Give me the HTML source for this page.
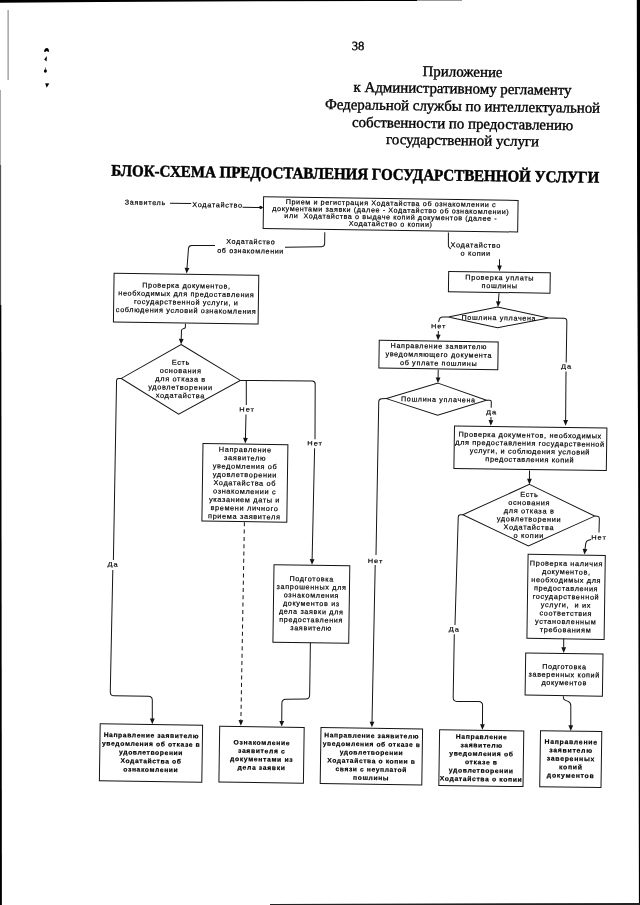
<!DOCTYPE html>
<html><head><meta charset="utf-8"><style>
html,body{margin:0;padding:0;background:#fff;width:640px;height:905px;overflow:hidden}
svg{display:block;filter:grayscale(1)}
</style></head><body>
<svg width="640" height="905" viewBox="0 0 640 905">
<rect width="640" height="905" fill="#fff"/>
<g transform="rotate(0.81 320.0 452.0)">
<text x="352.31" y="49.5" style="font-family:&quot;Liberation Serif&quot;,serif;font-size:12.50px;white-space:pre"  stroke="#000" stroke-width="0.35" text-anchor="middle" fill="#000" xml:space="preserve">38</text>
<text x="457.18" y="74.62" style="font-family:&quot;Liberation Serif&quot;,serif;font-size:14.90px;white-space:pre"  stroke="#000" stroke-width="0.35" text-anchor="middle" fill="#000" xml:space="preserve">Приложение</text>
<text x="457.42" y="91.42" style="font-family:&quot;Liberation Serif&quot;,serif;font-size:14.90px;white-space:pre"  stroke="#000" stroke-width="0.35" text-anchor="middle" fill="#000" xml:space="preserve">к Административному регламенту</text>
<text x="457.67" y="109.02" style="font-family:&quot;Liberation Serif&quot;,serif;font-size:14.90px;white-space:pre"  stroke="#000" stroke-width="0.35" text-anchor="middle" fill="#000" xml:space="preserve">Федеральной службы по интеллектуальной</text>
<text x="457.91" y="126.52" style="font-family:&quot;Liberation Serif&quot;,serif;font-size:14.90px;white-space:pre"  stroke="#000" stroke-width="0.35" text-anchor="middle" fill="#000" xml:space="preserve">собственности по предоставлению</text>
<text x="458.15" y="143.22" style="font-family:&quot;Liberation Serif&quot;,serif;font-size:14.90px;white-space:pre"  stroke="#000" stroke-width="0.35" text-anchor="middle" fill="#000" xml:space="preserve">государственной услуги</text>
<text x="0" y="0" transform="translate(351.44,178.83) scale(1.0,1.09)" style="font-family:&quot;Liberation Serif&quot;,serif;font-size:15.00px;white-space:pre"  font-weight="bold" stroke="#000" stroke-width="0.45" text-anchor="middle" fill="#000" xml:space="preserve">БЛОК-СХЕМА ПРЕДОСТАВЛЕНИЯ ГОСУДАРСТВЕННОЙ УСЛУГИ</text>
<text x="0" y="0" transform="translate(141.87,207.3) scale(1.0,0.9651162790697674)" style="font-family:&quot;Liberation Sans&quot;,sans-serif;font-size:7.15px;white-space:pre"  letter-spacing="0.698" stroke="#000" stroke-width="0.2" text-anchor="middle" fill="#000" xml:space="preserve">Заявитель</text>
<path d="M166.5,205.45 L187.7,205.45" fill="none" stroke="#141414" stroke-width="1.0"/>
<text x="0" y="0" transform="translate(214.1,208.78) scale(1.0,0.9651162790697674)" style="font-family:&quot;Liberation Sans&quot;,sans-serif;font-size:7.27px;white-space:pre"  letter-spacing="0.691" stroke="#000" stroke-width="0.2" text-anchor="middle" fill="#000" xml:space="preserve">Ходатайство</text>
<path d="M239.05,208.42 L257.45,208.34" fill="none" stroke="#141414" stroke-width="1.0"/>
<polygon points="259.95,208.32 256.96,209.94 256.94,206.74" fill="#141414"/>
<circle cx="257.15" cy="208.26" r="1.5" fill="#141414"/>
<rect x="260" y="197.62" width="254.52" height="31.61" fill="#fff" stroke="#141414" stroke-width="1.0"/>
<text x="0" y="0" transform="translate(387.44,204.63) scale(1.0,0.9651162790697674)" style="font-family:&quot;Liberation Sans&quot;,sans-serif;font-size:7.19px;white-space:pre"  letter-spacing="0.602" stroke="#000" stroke-width="0.2" text-anchor="middle" fill="#000" xml:space="preserve">Прием и регистрация Ходатайства об ознакомлении с</text>
<text x="0" y="0" transform="translate(387.44,211.53) scale(1.0,0.9651162790697674)" style="font-family:&quot;Liberation Sans&quot;,sans-serif;font-size:7.19px;white-space:pre"  letter-spacing="0.602" stroke="#000" stroke-width="0.2" text-anchor="middle" fill="#000" xml:space="preserve">документами заявки (далее - Ходатайство об ознакомлении)</text>
<text x="0" y="0" transform="translate(387.44,218.43) scale(1.0,0.9651162790697674)" style="font-family:&quot;Liberation Sans&quot;,sans-serif;font-size:7.19px;white-space:pre"  letter-spacing="0.602" stroke="#000" stroke-width="0.2" text-anchor="middle" fill="#000" xml:space="preserve">или  Ходатайства о выдаче копий документов (далее -</text>
<text x="0" y="0" transform="translate(387.44,225.33) scale(1.0,0.9651162790697674)" style="font-family:&quot;Liberation Sans&quot;,sans-serif;font-size:7.19px;white-space:pre"  letter-spacing="0.602" stroke="#000" stroke-width="0.2" text-anchor="middle" fill="#000" xml:space="preserve">Ходатайство о копии)</text>
<path d="M321.69,232.15 L321.7,243.56 Q321.7,246.56 318.7,246.64 L282.11,247.72" fill="none" stroke="#141414" stroke-width="1.0"/>
<text x="0" y="0" transform="translate(247.79,245) scale(1.0,0.9651162790697674)" style="font-family:&quot;Liberation Sans&quot;,sans-serif;font-size:7.10px;white-space:pre"  letter-spacing="0.654" stroke="#000" stroke-width="0.2" text-anchor="middle" fill="#000" xml:space="preserve">Ходатайство</text>
<text x="0" y="0" transform="translate(247.79,254.2) scale(1.0,0.9651162790697674)" style="font-family:&quot;Liberation Sans&quot;,sans-serif;font-size:7.10px;white-space:pre"  letter-spacing="0.654" stroke="#000" stroke-width="0.2" text-anchor="middle" fill="#000" xml:space="preserve">об ознакомлении</text>
<path d="M212.09,247.1 L188.79,247.35 Q185.79,247.38 185.61,250.37 L184.4,270.21" fill="none" stroke="#141414" stroke-width="1.0"/>
<polygon points="184.09,275.3 182.03,269.57 186.83,269.86" fill="#141414"/>
<rect x="111.59" y="276.23" width="144.7" height="48.66" fill="#fff" stroke="#141414" stroke-width="1.0"/>
<text x="0" y="0" transform="translate(184.12,289.91) scale(1.0,0.9651162790697674)" style="font-family:&quot;Liberation Sans&quot;,sans-serif;font-size:7.24px;white-space:pre"  letter-spacing="0.649" stroke="#000" stroke-width="0.2" text-anchor="middle" fill="#000" xml:space="preserve">Проверка документов,</text>
<text x="0" y="0" transform="translate(184.12,298.21) scale(1.0,0.9651162790697674)" style="font-family:&quot;Liberation Sans&quot;,sans-serif;font-size:7.24px;white-space:pre"  letter-spacing="0.649" stroke="#000" stroke-width="0.2" text-anchor="middle" fill="#000" xml:space="preserve">необходимых для предоставления</text>
<text x="0" y="0" transform="translate(184.12,306.51) scale(1.0,0.9651162790697674)" style="font-family:&quot;Liberation Sans&quot;,sans-serif;font-size:7.24px;white-space:pre"  letter-spacing="0.649" stroke="#000" stroke-width="0.2" text-anchor="middle" fill="#000" xml:space="preserve">государственной услуги, и</text>
<text x="0" y="0" transform="translate(184.12,314.81) scale(1.0,0.9651162790697674)" style="font-family:&quot;Liberation Sans&quot;,sans-serif;font-size:7.24px;white-space:pre"  letter-spacing="0.649" stroke="#000" stroke-width="0.2" text-anchor="middle" fill="#000" xml:space="preserve">соблюдения условий ознакомления</text>
<path d="M183.6,325.72 L183.64,328.82 Q183.66,329.82 182.74,330.21 L180.7,331.08 Q179.78,331.47 179.77,332.47 L179.66,341.37" fill="none" stroke="#141414" stroke-width="1.0"/>
<polygon points="179.59,346.47 177.26,340.84 182.06,340.9" fill="#141414"/>
<polygon points="179.59,346.47 239.3,381.53 178.18,416.2 120.23,381.22" fill="#fff" stroke="#141414" stroke-width="1.0"/>
<text x="0" y="0" transform="translate(179.62,366.78) scale(1.0,0.9651162790697674)" style="font-family:&quot;Liberation Sans&quot;,sans-serif;font-size:7.32px;white-space:pre"  letter-spacing="0.684" stroke="#000" stroke-width="0.2" text-anchor="middle" fill="#000" xml:space="preserve">Есть</text>
<text x="0" y="0" transform="translate(179.62,375.06) scale(1.0,0.9651162790697674)" style="font-family:&quot;Liberation Sans&quot;,sans-serif;font-size:7.32px;white-space:pre"  letter-spacing="0.684" stroke="#000" stroke-width="0.2" text-anchor="middle" fill="#000" xml:space="preserve">основания</text>
<text x="0" y="0" transform="translate(179.62,383.34) scale(1.0,0.9651162790697674)" style="font-family:&quot;Liberation Sans&quot;,sans-serif;font-size:7.32px;white-space:pre"  letter-spacing="0.684" stroke="#000" stroke-width="0.2" text-anchor="middle" fill="#000" xml:space="preserve">для отказа в</text>
<text x="0" y="0" transform="translate(179.62,391.62) scale(1.0,0.9651162790697674)" style="font-family:&quot;Liberation Sans&quot;,sans-serif;font-size:7.32px;white-space:pre"  letter-spacing="0.684" stroke="#000" stroke-width="0.2" text-anchor="middle" fill="#000" xml:space="preserve">удовлетворении</text>
<text x="0" y="0" transform="translate(179.62,399.9) scale(1.0,0.9651162790697674)" style="font-family:&quot;Liberation Sans&quot;,sans-serif;font-size:7.32px;white-space:pre"  letter-spacing="0.684" stroke="#000" stroke-width="0.2" text-anchor="middle" fill="#000" xml:space="preserve">ходатайства</text>
<path d="M445.28,230.61 L445.47,243.71 Q445.49,245.21 446.7,246.09 L447.91,246.97" fill="none" stroke="#141414" stroke-width="1.0"/>
<text x="0" y="0" transform="translate(472.84,245.32) scale(1.0,0.9651162790697674)" style="font-family:&quot;Liberation Sans&quot;,sans-serif;font-size:7.30px;white-space:pre"  letter-spacing="0.694" stroke="#000" stroke-width="0.2" text-anchor="middle" fill="#000" xml:space="preserve">Ходатайство</text>
<text x="0" y="0" transform="translate(472.84,253.52) scale(1.0,0.9651162790697674)" style="font-family:&quot;Liberation Sans&quot;,sans-serif;font-size:7.30px;white-space:pre"  letter-spacing="0.694" stroke="#000" stroke-width="0.2" text-anchor="middle" fill="#000" xml:space="preserve">о копии</text>
<path d="M496.76,256.78 L496.85,263.58" fill="none" stroke="#141414" stroke-width="1.0"/>
<polygon points="496.93,268.68 494.45,263.12 499.25,263.05" fill="#141414"/>
<rect x="446.13" y="269.6" width="101.6" height="20.37" fill="#fff" stroke="#141414" stroke-width="1.0"/>
<text x="0" y="0" transform="translate(497.24,277.54) scale(1.0,0.9651162790697674)" style="font-family:&quot;Liberation Sans&quot;,sans-serif;font-size:7.27px;white-space:pre"  letter-spacing="0.672" stroke="#000" stroke-width="0.2" text-anchor="middle" fill="#000" xml:space="preserve">Проверка уплаты</text>
<text x="0" y="0" transform="translate(497.24,285.64) scale(1.0,0.9651162790697674)" style="font-family:&quot;Liberation Sans&quot;,sans-serif;font-size:7.27px;white-space:pre"  letter-spacing="0.672" stroke="#000" stroke-width="0.2" text-anchor="middle" fill="#000" xml:space="preserve">пошлины</text>
<path d="M496.74,290.69 L496.23,299.41" fill="none" stroke="#141414" stroke-width="1.0"/>
<polygon points="495.93,304.5 493.86,298.77 498.65,299.05" fill="#141414"/>
<polygon points="495.53,304.5 546.68,314.88 495.83,325.2 446.38,315.2" fill="#fff" stroke="#141414" stroke-width="1.0"/>
<text x="0" y="0" transform="translate(496.96,317.69) scale(1.0,0.9651162790697674)" style="font-family:&quot;Liberation Sans&quot;,sans-serif;font-size:7.13px;white-space:pre"  letter-spacing="0.687" stroke="#000" stroke-width="0.2" text-anchor="middle" fill="#000" xml:space="preserve">Пошлина уплачена</text>
<path d="M446.38,315.2 L440.58,315.28 Q438.08,315.32 437.44,317.73 L436.75,320.34" fill="none" stroke="#141414" stroke-width="1.0"/>
<text x="0" y="0" transform="translate(436.92,326.64) scale(1.0,0.8396511627906976)" style="font-family:&quot;Liberation Sans&quot;,sans-serif;font-size:7.41px;white-space:pre"  letter-spacing="0.970" stroke="#000" stroke-width="0.2" text-anchor="middle" fill="#000" xml:space="preserve">Нет</text>
<path d="M436.68,329.34 L436.56,333.55" fill="none" stroke="#141414" stroke-width="1.0"/>
<polygon points="436.41,338.64 434.17,332.98 438.97,333.11" fill="#141414"/>
<rect x="377.67" y="339.47" width="118.95" height="27.72" fill="#fff" stroke="#141414" stroke-width="1.0"/>
<text x="0" y="0" transform="translate(437.39,346.83) scale(1.0,0.9651162790697674)" style="font-family:&quot;Liberation Sans&quot;,sans-serif;font-size:7.20px;white-space:pre"  letter-spacing="0.676" stroke="#000" stroke-width="0.2" text-anchor="middle" fill="#000" xml:space="preserve">Направление заявителю</text>
<text x="0" y="0" transform="translate(437.39,355.33) scale(1.0,0.9651162790697674)" style="font-family:&quot;Liberation Sans&quot;,sans-serif;font-size:7.20px;white-space:pre"  letter-spacing="0.676" stroke="#000" stroke-width="0.2" text-anchor="middle" fill="#000" xml:space="preserve">уведомляющего документа</text>
<text x="0" y="0" transform="translate(437.39,363.83) scale(1.0,0.9651162790697674)" style="font-family:&quot;Liberation Sans&quot;,sans-serif;font-size:7.20px;white-space:pre"  letter-spacing="0.676" stroke="#000" stroke-width="0.2" text-anchor="middle" fill="#000" xml:space="preserve">об уплате пошлины</text>
<path d="M546.68,314.88 L561.99,314.92 Q564.99,314.92 564.98,317.92 L564.91,359.03" fill="none" stroke="#141414" stroke-width="1.0"/>
<text x="0" y="0" transform="translate(565.28,365.13) scale(1.0,0.8396511627906976)" style="font-family:&quot;Liberation Sans&quot;,sans-serif;font-size:7.41px;white-space:pre"  letter-spacing="0.970" stroke="#000" stroke-width="0.2" text-anchor="middle" fill="#000" xml:space="preserve">Да</text>
<path d="M564.84,368.03 L565.17,417.13" fill="none" stroke="#141414" stroke-width="1.0"/>
<polygon points="565.2,422.23 562.77,416.65 567.57,416.61" fill="#141414"/>
<path d="M437.02,368.04 L437.02,376.34" fill="none" stroke="#141414" stroke-width="1.0"/>
<polygon points="437.01,381.44 434.62,375.84 439.42,375.84" fill="#141414"/>
<polygon points="437.01,381.44 485.75,397.85 437.07,413.54 385.64,397.67" fill="#fff" stroke="#141414" stroke-width="1.0"/>
<text x="0" y="0" transform="translate(437.62,400.14) scale(1.0,0.9651162790697674)" style="font-family:&quot;Liberation Sans&quot;,sans-serif;font-size:7.13px;white-space:pre"  letter-spacing="0.687" stroke="#000" stroke-width="0.2" text-anchor="middle" fill="#000" xml:space="preserve">Пошлина уплачена</text>
<path d="M485.75,397.85 L489.05,397.87 Q490.55,397.88 490.55,399.38 L490.56,405.38" fill="none" stroke="#141414" stroke-width="1.0"/>
<text x="0" y="0" transform="translate(490.93,411.79) scale(1.0,0.8396511627906976)" style="font-family:&quot;Liberation Sans&quot;,sans-serif;font-size:7.41px;white-space:pre"  letter-spacing="0.970" stroke="#000" stroke-width="0.2" text-anchor="middle" fill="#000" xml:space="preserve">Да</text>
<path d="M490.49,414.59 L490.46,418.19" fill="none" stroke="#141414" stroke-width="1.0"/>
<polygon points="490.41,423.29 488.06,417.67 492.86,417.71" fill="#141414"/>
<rect x="454.12" y="424" width="152.42" height="42.55" fill="#fff" stroke="#141414" stroke-width="1.0"/>
<text x="0" y="0" transform="translate(529.89,434.53) scale(1.0,0.9651162790697674)" style="font-family:&quot;Liberation Sans&quot;,sans-serif;font-size:7.27px;white-space:pre"  letter-spacing="0.631" stroke="#000" stroke-width="0.2" text-anchor="middle" fill="#000" xml:space="preserve">Проверка документов, необходимых</text>
<text x="0" y="0" transform="translate(529.89,442.68) scale(1.0,0.9651162790697674)" style="font-family:&quot;Liberation Sans&quot;,sans-serif;font-size:7.27px;white-space:pre"  letter-spacing="0.631" stroke="#000" stroke-width="0.2" text-anchor="middle" fill="#000" xml:space="preserve">для предоставления государственной</text>
<text x="0" y="0" transform="translate(529.89,450.83) scale(1.0,0.9651162790697674)" style="font-family:&quot;Liberation Sans&quot;,sans-serif;font-size:7.27px;white-space:pre"  letter-spacing="0.631" stroke="#000" stroke-width="0.2" text-anchor="middle" fill="#000" xml:space="preserve">услуги, и соблюдения условий</text>
<text x="0" y="0" transform="translate(529.89,458.98) scale(1.0,0.9651162790697674)" style="font-family:&quot;Liberation Sans&quot;,sans-serif;font-size:7.27px;white-space:pre"  letter-spacing="0.631" stroke="#000" stroke-width="0.2" text-anchor="middle" fill="#000" xml:space="preserve">предоставления копий</text>
<path d="M385.64,397.67 L381.04,397.79 Q378.04,397.87 378.03,400.87 L377.45,554.2" fill="none" stroke="#141414" stroke-width="1.0"/>
<text x="0" y="0" transform="translate(377.05,562.31) scale(1.0,0.8396511627906976)" style="font-family:&quot;Liberation Sans&quot;,sans-serif;font-size:7.41px;white-space:pre"  letter-spacing="0.970" stroke="#000" stroke-width="0.2" text-anchor="middle" fill="#000" xml:space="preserve">Нет</text>
<path d="M376.79,564.21 L375.82,721.44" fill="none" stroke="#141414" stroke-width="1.0"/>
<polygon points="375.79,726.54 373.42,720.92 378.22,720.95" fill="#141414"/>
<path d="M529.74,467.54 L529.8,476.34" fill="none" stroke="#141414" stroke-width="1.0"/>
<polygon points="529.84,481.44 527.4,475.85 532.2,475.82" fill="#141414"/>
<polygon points="529.84,481.44 595.58,512.21 529.71,543.04 463.67,512.68" fill="#fff" stroke="#141414" stroke-width="1.0"/>
<text x="0" y="0" transform="translate(529.96,493.94) scale(1.0,0.9651162790697674)" style="font-family:&quot;Liberation Sans&quot;,sans-serif;font-size:7.32px;white-space:pre"  letter-spacing="0.684" stroke="#000" stroke-width="0.2" text-anchor="middle" fill="#000" xml:space="preserve">Есть</text>
<text x="0" y="0" transform="translate(529.96,502.14) scale(1.0,0.9651162790697674)" style="font-family:&quot;Liberation Sans&quot;,sans-serif;font-size:7.32px;white-space:pre"  letter-spacing="0.684" stroke="#000" stroke-width="0.2" text-anchor="middle" fill="#000" xml:space="preserve">основания</text>
<text x="0" y="0" transform="translate(529.96,510.34) scale(1.0,0.9651162790697674)" style="font-family:&quot;Liberation Sans&quot;,sans-serif;font-size:7.32px;white-space:pre"  letter-spacing="0.684" stroke="#000" stroke-width="0.2" text-anchor="middle" fill="#000" xml:space="preserve">для отказа в</text>
<text x="0" y="0" transform="translate(529.96,518.54) scale(1.0,0.9651162790697674)" style="font-family:&quot;Liberation Sans&quot;,sans-serif;font-size:7.32px;white-space:pre"  letter-spacing="0.684" stroke="#000" stroke-width="0.2" text-anchor="middle" fill="#000" xml:space="preserve">удовлетворении</text>
<text x="0" y="0" transform="translate(529.96,526.74) scale(1.0,0.9651162790697674)" style="font-family:&quot;Liberation Sans&quot;,sans-serif;font-size:7.32px;white-space:pre"  letter-spacing="0.684" stroke="#000" stroke-width="0.2" text-anchor="middle" fill="#000" xml:space="preserve">Ходатайства</text>
<text x="0" y="0" transform="translate(529.96,534.94) scale(1.0,0.9651162790697674)" style="font-family:&quot;Liberation Sans&quot;,sans-serif;font-size:7.32px;white-space:pre"  letter-spacing="0.684" stroke="#000" stroke-width="0.2" text-anchor="middle" fill="#000" xml:space="preserve">о копии</text>
<path d="M595.58,512.21 L598.28,512.34 Q600.28,512.44 600.26,514.44 L600.11,528.55" fill="none" stroke="#141414" stroke-width="1.0"/>
<text x="0" y="0" transform="translate(600.2,535.65) scale(1.0,0.8396511627906976)" style="font-family:&quot;Liberation Sans&quot;,sans-serif;font-size:7.41px;white-space:pre"  letter-spacing="0.970" stroke="#000" stroke-width="0.2" text-anchor="middle" fill="#000" xml:space="preserve">Нет</text>
<path d="M592.21,535.66 L589.72,536.45 Q587.23,537.23 586.96,539.83 L586.35,545.78" fill="none" stroke="#141414" stroke-width="1.0"/>
<polygon points="585.82,550.85 584.01,545.03 588.79,545.53" fill="#141414"/>
<path d="M463.67,512.68 L461.42,512.71 Q459.17,512.74 459.14,514.99 L457.43,623.07" fill="none" stroke="#141414" stroke-width="1.0"/>
<text x="0" y="0" transform="translate(456.91,629.49) scale(1.0,0.8396511627906976)" style="font-family:&quot;Liberation Sans&quot;,sans-serif;font-size:7.41px;white-space:pre"  letter-spacing="0.970" stroke="#000" stroke-width="0.2" text-anchor="middle" fill="#000" xml:space="preserve">Да</text>
<path d="M456.86,632.38 L456.63,695.49 Q456.61,699.49 460.61,699.46 L482.11,699.31 Q486.11,699.28 486.14,703.28 L486.28,722.38" fill="none" stroke="#141414" stroke-width="1.0"/>
<polygon points="486.31,727.48 483.87,721.89 488.67,721.86" fill="#141414"/>
<rect x="529.53" y="551.35" width="77.2" height="84.02" fill="#fff" stroke="#141414" stroke-width="1.0"/>
<text x="0" y="0" transform="translate(568.02,562.41) scale(1.0,0.9651162790697674)" style="font-family:&quot;Liberation Sans&quot;,sans-serif;font-size:7.27px;white-space:pre"  letter-spacing="0.669" stroke="#000" stroke-width="0.2" text-anchor="middle" fill="#000" xml:space="preserve">Проверка наличия</text>
<text x="0" y="0" transform="translate(568.02,570.71) scale(1.0,0.9651162790697674)" style="font-family:&quot;Liberation Sans&quot;,sans-serif;font-size:7.27px;white-space:pre"  letter-spacing="0.669" stroke="#000" stroke-width="0.2" text-anchor="middle" fill="#000" xml:space="preserve">документов,</text>
<text x="0" y="0" transform="translate(568.02,579.01) scale(1.0,0.9651162790697674)" style="font-family:&quot;Liberation Sans&quot;,sans-serif;font-size:7.27px;white-space:pre"  letter-spacing="0.669" stroke="#000" stroke-width="0.2" text-anchor="middle" fill="#000" xml:space="preserve">необходимых для</text>
<text x="0" y="0" transform="translate(568.02,587.31) scale(1.0,0.9651162790697674)" style="font-family:&quot;Liberation Sans&quot;,sans-serif;font-size:7.27px;white-space:pre"  letter-spacing="0.669" stroke="#000" stroke-width="0.2" text-anchor="middle" fill="#000" xml:space="preserve">предоставления</text>
<text x="0" y="0" transform="translate(568.02,595.61) scale(1.0,0.9651162790697674)" style="font-family:&quot;Liberation Sans&quot;,sans-serif;font-size:7.27px;white-space:pre"  letter-spacing="0.669" stroke="#000" stroke-width="0.2" text-anchor="middle" fill="#000" xml:space="preserve">государственной</text>
<text x="0" y="0" transform="translate(568.02,603.91) scale(1.0,0.9651162790697674)" style="font-family:&quot;Liberation Sans&quot;,sans-serif;font-size:7.27px;white-space:pre"  letter-spacing="0.669" stroke="#000" stroke-width="0.2" text-anchor="middle" fill="#000" xml:space="preserve">услуги,  и их</text>
<text x="0" y="0" transform="translate(568.02,612.21) scale(1.0,0.9651162790697674)" style="font-family:&quot;Liberation Sans&quot;,sans-serif;font-size:7.27px;white-space:pre"  letter-spacing="0.669" stroke="#000" stroke-width="0.2" text-anchor="middle" fill="#000" xml:space="preserve">соответствия</text>
<text x="0" y="0" transform="translate(568.02,620.51) scale(1.0,0.9651162790697674)" style="font-family:&quot;Liberation Sans&quot;,sans-serif;font-size:7.27px;white-space:pre"  letter-spacing="0.669" stroke="#000" stroke-width="0.2" text-anchor="middle" fill="#000" xml:space="preserve">установленным</text>
<text x="0" y="0" transform="translate(568.02,628.81) scale(1.0,0.9651162790697674)" style="font-family:&quot;Liberation Sans&quot;,sans-serif;font-size:7.27px;white-space:pre"  letter-spacing="0.669" stroke="#000" stroke-width="0.2" text-anchor="middle" fill="#000" xml:space="preserve">требованиям</text>
<path d="M566.31,635.04 L566.44,644.34" fill="none" stroke="#141414" stroke-width="1.0"/>
<polygon points="566.52,649.43 564.04,643.87 568.84,643.8" fill="#141414"/>
<rect x="528.52" y="649.97" width="77.3" height="42.21" fill="#fff" stroke="#141414" stroke-width="1.0"/>
<text x="0" y="0" transform="translate(567.42,665.53) scale(1.0,0.9651162790697674)" style="font-family:&quot;Liberation Sans&quot;,sans-serif;font-size:7.20px;white-space:pre"  letter-spacing="0.655" stroke="#000" stroke-width="0.2" text-anchor="middle" fill="#000" xml:space="preserve">Подготовка</text>
<text x="0" y="0" transform="translate(567.42,673.58) scale(1.0,0.9651162790697674)" style="font-family:&quot;Liberation Sans&quot;,sans-serif;font-size:7.20px;white-space:pre"  letter-spacing="0.655" stroke="#000" stroke-width="0.2" text-anchor="middle" fill="#000" xml:space="preserve">заверенных копий</text>
<text x="0" y="0" transform="translate(567.42,681.63) scale(1.0,0.9651162790697674)" style="font-family:&quot;Liberation Sans&quot;,sans-serif;font-size:7.20px;white-space:pre"  letter-spacing="0.655" stroke="#000" stroke-width="0.2" text-anchor="middle" fill="#000" xml:space="preserve">документов</text>
<path d="M566.73,692.74 L566.9,694.38 Q567.07,696.03 568.61,696.65 L571.53,697.81 Q574.32,698.93 574.36,701.93 L574.65,722.23" fill="none" stroke="#141414" stroke-width="1.0"/>
<polygon points="574.72,727.33 572.24,721.76 577.04,721.69" fill="#141414"/>
<path d="M120.23,381.22 L117.58,381.25 Q115.58,381.28 115.57,383.28 L114.95,562.91" fill="none" stroke="#141414" stroke-width="1.0"/>
<text x="0" y="0" transform="translate(114.72,569.32) scale(1.0,0.8396511627906976)" style="font-family:&quot;Liberation Sans&quot;,sans-serif;font-size:7.41px;white-space:pre"  letter-spacing="0.970" stroke="#000" stroke-width="0.2" text-anchor="middle" fill="#000" xml:space="preserve">Да</text>
<path d="M114.49,572.92 L113.69,694.74 Q113.67,698.74 117.67,698.72 L151.77,698.56 Q155.77,698.55 155.83,702.55 L156.09,721.44" fill="none" stroke="#141414" stroke-width="1.0"/>
<polygon points="156.16,726.54 153.69,720.98 158.49,720.91" fill="#141414"/>
<path d="M245.3,382.05 L245.64,406.05" fill="none" stroke="#141414" stroke-width="1.0"/>
<text x="0" y="0" transform="translate(246.52,412.64) scale(1.0,0.8396511627906976)" style="font-family:&quot;Liberation Sans&quot;,sans-serif;font-size:7.41px;white-space:pre"  letter-spacing="0.970" stroke="#000" stroke-width="0.2" text-anchor="middle" fill="#000" xml:space="preserve">Нет</text>
<path d="M245.48,415.55 L245.24,439.46" fill="none" stroke="#141414" stroke-width="1.0"/>
<polygon points="245.19,444.56 242.84,438.93 247.64,438.98" fill="#141414"/>
<rect x="202.89" y="445.15" width="84.91" height="77.61" fill="#fff" stroke="#141414" stroke-width="1.0"/>
<text x="0" y="0" transform="translate(245.24,453.06) scale(1.0,0.9651162790697674)" style="font-family:&quot;Liberation Sans&quot;,sans-serif;font-size:7.32px;white-space:pre"  letter-spacing="0.662" stroke="#000" stroke-width="0.2" text-anchor="middle" fill="#000" xml:space="preserve">Направление</text>
<text x="0" y="0" transform="translate(245.24,461.42) scale(1.0,0.9651162790697674)" style="font-family:&quot;Liberation Sans&quot;,sans-serif;font-size:7.32px;white-space:pre"  letter-spacing="0.662" stroke="#000" stroke-width="0.2" text-anchor="middle" fill="#000" xml:space="preserve">заявителю</text>
<text x="0" y="0" transform="translate(245.24,469.78) scale(1.0,0.9651162790697674)" style="font-family:&quot;Liberation Sans&quot;,sans-serif;font-size:7.32px;white-space:pre"  letter-spacing="0.662" stroke="#000" stroke-width="0.2" text-anchor="middle" fill="#000" xml:space="preserve">уведомления об</text>
<text x="0" y="0" transform="translate(245.24,478.14) scale(1.0,0.9651162790697674)" style="font-family:&quot;Liberation Sans&quot;,sans-serif;font-size:7.32px;white-space:pre"  letter-spacing="0.662" stroke="#000" stroke-width="0.2" text-anchor="middle" fill="#000" xml:space="preserve">удовлетворении</text>
<text x="0" y="0" transform="translate(245.24,486.5) scale(1.0,0.9651162790697674)" style="font-family:&quot;Liberation Sans&quot;,sans-serif;font-size:7.32px;white-space:pre"  letter-spacing="0.662" stroke="#000" stroke-width="0.2" text-anchor="middle" fill="#000" xml:space="preserve">Ходатайства об</text>
<text x="0" y="0" transform="translate(245.24,494.86) scale(1.0,0.9651162790697674)" style="font-family:&quot;Liberation Sans&quot;,sans-serif;font-size:7.32px;white-space:pre"  letter-spacing="0.662" stroke="#000" stroke-width="0.2" text-anchor="middle" fill="#000" xml:space="preserve">ознакомлении с</text>
<text x="0" y="0" transform="translate(245.24,503.22) scale(1.0,0.9651162790697674)" style="font-family:&quot;Liberation Sans&quot;,sans-serif;font-size:7.32px;white-space:pre"  letter-spacing="0.662" stroke="#000" stroke-width="0.2" text-anchor="middle" fill="#000" xml:space="preserve">указанием даты и</text>
<text x="0" y="0" transform="translate(245.24,511.58) scale(1.0,0.9651162790697674)" style="font-family:&quot;Liberation Sans&quot;,sans-serif;font-size:7.32px;white-space:pre"  letter-spacing="0.662" stroke="#000" stroke-width="0.2" text-anchor="middle" fill="#000" xml:space="preserve">времени личного</text>
<text x="0" y="0" transform="translate(245.24,519.94) scale(1.0,0.9651162790697674)" style="font-family:&quot;Liberation Sans&quot;,sans-serif;font-size:7.32px;white-space:pre"  letter-spacing="0.662" stroke="#000" stroke-width="0.2" text-anchor="middle" fill="#000" xml:space="preserve">приема заявителя</text>
<path d="M245.4,523.36 L244.7,721.69" fill="none" stroke="#141414" stroke-width="1.0" stroke-dasharray="4,3.3"/>
<polygon points="244.68,726.79 242.3,721.18 247.1,721.2" fill="#141414"/>
<path d="M239.3,381.53 L311.2,381.19 Q314.2,381.17 314.23,384.17 L314.82,439.27" fill="none" stroke="#141414" stroke-width="1.0"/>
<text x="0" y="0" transform="translate(314.99,445.48) scale(1.0,0.8396511627906976)" style="font-family:&quot;Liberation Sans&quot;,sans-serif;font-size:7.41px;white-space:pre"  letter-spacing="0.970" stroke="#000" stroke-width="0.2" text-anchor="middle" fill="#000" xml:space="preserve">Нет</text>
<path d="M314.55,448.28 L313.64,559.7" fill="none" stroke="#141414" stroke-width="1.0"/>
<polygon points="313.59,564.8 311.24,559.18 316.04,559.22" fill="#141414"/>
<rect x="275.6" y="565.34" width="75.8" height="77.44" fill="#fff" stroke="#141414" stroke-width="1.0"/>
<text x="0" y="0" transform="translate(313.52,581.31) scale(1.0,0.9651162790697674)" style="font-family:&quot;Liberation Sans&quot;,sans-serif;font-size:7.17px;white-space:pre"  letter-spacing="0.688" stroke="#000" stroke-width="0.2" text-anchor="middle" fill="#000" xml:space="preserve">Подготовка</text>
<text x="0" y="0" transform="translate(313.52,589.51) scale(1.0,0.9651162790697674)" style="font-family:&quot;Liberation Sans&quot;,sans-serif;font-size:7.17px;white-space:pre"  letter-spacing="0.688" stroke="#000" stroke-width="0.2" text-anchor="middle" fill="#000" xml:space="preserve">запрошенных для</text>
<text x="0" y="0" transform="translate(313.52,597.71) scale(1.0,0.9651162790697674)" style="font-family:&quot;Liberation Sans&quot;,sans-serif;font-size:7.17px;white-space:pre"  letter-spacing="0.688" stroke="#000" stroke-width="0.2" text-anchor="middle" fill="#000" xml:space="preserve">ознакомления</text>
<text x="0" y="0" transform="translate(313.52,605.91) scale(1.0,0.9651162790697674)" style="font-family:&quot;Liberation Sans&quot;,sans-serif;font-size:7.17px;white-space:pre"  letter-spacing="0.688" stroke="#000" stroke-width="0.2" text-anchor="middle" fill="#000" xml:space="preserve">документов из</text>
<text x="0" y="0" transform="translate(313.52,614.11) scale(1.0,0.9651162790697674)" style="font-family:&quot;Liberation Sans&quot;,sans-serif;font-size:7.17px;white-space:pre"  letter-spacing="0.688" stroke="#000" stroke-width="0.2" text-anchor="middle" fill="#000" xml:space="preserve">дела заявки для</text>
<text x="0" y="0" transform="translate(313.52,622.31) scale(1.0,0.9651162790697674)" style="font-family:&quot;Liberation Sans&quot;,sans-serif;font-size:7.17px;white-space:pre"  letter-spacing="0.688" stroke="#000" stroke-width="0.2" text-anchor="middle" fill="#000" xml:space="preserve">предоставления</text>
<text x="0" y="0" transform="translate(313.52,630.51) scale(1.0,0.9651162790697674)" style="font-family:&quot;Liberation Sans&quot;,sans-serif;font-size:7.17px;white-space:pre"  letter-spacing="0.688" stroke="#000" stroke-width="0.2" text-anchor="middle" fill="#000" xml:space="preserve">заявителю</text>
<path d="M313.09,642.62 L313.09,695.12 Q313.09,699.12 309.09,699.21 L289.4,699.63 Q285.4,699.71 285.43,703.71 L285.55,722.01" fill="none" stroke="#141414" stroke-width="1.0"/>
<polygon points="285.59,727.11 283.15,721.53 287.95,721.5" fill="#141414"/>
<rect x="104.06" y="726.88" width="102.42" height="57.06" fill="#fff" stroke="#141414" stroke-width="1.0"/>
<text x="0" y="0" transform="translate(155.36,739.96) scale(1.0,0.9651162790697674)" style="font-family:&quot;Liberation Sans&quot;,sans-serif;font-size:6.72px;white-space:pre"  font-weight="bold" letter-spacing="0.621" stroke="#000" stroke-width="0.2" text-anchor="middle" fill="#000" xml:space="preserve">Направление заявителю</text>
<text x="0" y="0" transform="translate(155.36,748.51) scale(1.0,0.9651162790697674)" style="font-family:&quot;Liberation Sans&quot;,sans-serif;font-size:6.72px;white-space:pre"  font-weight="bold" letter-spacing="0.621" stroke="#000" stroke-width="0.2" text-anchor="middle" fill="#000" xml:space="preserve">уведомления об отказе в</text>
<text x="0" y="0" transform="translate(155.36,757.06) scale(1.0,0.9651162790697674)" style="font-family:&quot;Liberation Sans&quot;,sans-serif;font-size:6.72px;white-space:pre"  font-weight="bold" letter-spacing="0.621" stroke="#000" stroke-width="0.2" text-anchor="middle" fill="#000" xml:space="preserve">удовлетворении</text>
<text x="0" y="0" transform="translate(155.36,765.61) scale(1.0,0.9651162790697674)" style="font-family:&quot;Liberation Sans&quot;,sans-serif;font-size:6.72px;white-space:pre"  font-weight="bold" letter-spacing="0.621" stroke="#000" stroke-width="0.2" text-anchor="middle" fill="#000" xml:space="preserve">Ходатайства об</text>
<text x="0" y="0" transform="translate(155.36,774.16) scale(1.0,0.9651162790697674)" style="font-family:&quot;Liberation Sans&quot;,sans-serif;font-size:6.72px;white-space:pre"  font-weight="bold" letter-spacing="0.621" stroke="#000" stroke-width="0.2" text-anchor="middle" fill="#000" xml:space="preserve">ознакомлении</text>
<rect x="223.59" y="727.59" width="84.5" height="55.81" fill="#fff" stroke="#141414" stroke-width="1.0"/>
<text x="0" y="0" transform="translate(266.03,745.6) scale(1.0,0.9651162790697674)" style="font-family:&quot;Liberation Sans&quot;,sans-serif;font-size:6.75px;white-space:pre"  font-weight="bold" letter-spacing="0.672" stroke="#000" stroke-width="0.2" text-anchor="middle" fill="#000" xml:space="preserve">Ознакомление</text>
<text x="0" y="0" transform="translate(266.03,753.93) scale(1.0,0.9651162790697674)" style="font-family:&quot;Liberation Sans&quot;,sans-serif;font-size:6.75px;white-space:pre"  font-weight="bold" letter-spacing="0.672" stroke="#000" stroke-width="0.2" text-anchor="middle" fill="#000" xml:space="preserve">заявителя с</text>
<text x="0" y="0" transform="translate(266.03,762.26) scale(1.0,0.9651162790697674)" style="font-family:&quot;Liberation Sans&quot;,sans-serif;font-size:6.75px;white-space:pre"  font-weight="bold" letter-spacing="0.672" stroke="#000" stroke-width="0.2" text-anchor="middle" fill="#000" xml:space="preserve">документами из</text>
<text x="0" y="0" transform="translate(266.03,770.59) scale(1.0,0.9651162790697674)" style="font-family:&quot;Liberation Sans&quot;,sans-serif;font-size:6.75px;white-space:pre"  font-weight="bold" letter-spacing="0.672" stroke="#000" stroke-width="0.2" text-anchor="middle" fill="#000" xml:space="preserve">дела заявки</text>
<rect x="324.89" y="727.46" width="101.6" height="56.07" fill="#fff" stroke="#141414" stroke-width="1.0"/>
<text x="0" y="0" transform="translate(375.74,737.14) scale(1.0,0.9651162790697674)" style="font-family:&quot;Liberation Sans&quot;,sans-serif;font-size:6.67px;white-space:pre"  font-weight="bold" letter-spacing="0.616" stroke="#000" stroke-width="0.2" text-anchor="middle" fill="#000" xml:space="preserve">Направление заявителю</text>
<text x="0" y="0" transform="translate(375.74,745.56) scale(1.0,0.9651162790697674)" style="font-family:&quot;Liberation Sans&quot;,sans-serif;font-size:6.67px;white-space:pre"  font-weight="bold" letter-spacing="0.616" stroke="#000" stroke-width="0.2" text-anchor="middle" fill="#000" xml:space="preserve">уведомления об отказе в</text>
<text x="0" y="0" transform="translate(375.74,753.98) scale(1.0,0.9651162790697674)" style="font-family:&quot;Liberation Sans&quot;,sans-serif;font-size:6.67px;white-space:pre"  font-weight="bold" letter-spacing="0.616" stroke="#000" stroke-width="0.2" text-anchor="middle" fill="#000" xml:space="preserve">удовлетворении</text>
<text x="0" y="0" transform="translate(375.74,762.4) scale(1.0,0.9651162790697674)" style="font-family:&quot;Liberation Sans&quot;,sans-serif;font-size:6.67px;white-space:pre"  font-weight="bold" letter-spacing="0.616" stroke="#000" stroke-width="0.2" text-anchor="middle" fill="#000" xml:space="preserve">Ходатайства о копии в</text>
<text x="0" y="0" transform="translate(375.74,770.82) scale(1.0,0.9651162790697674)" style="font-family:&quot;Liberation Sans&quot;,sans-serif;font-size:6.67px;white-space:pre"  font-weight="bold" letter-spacing="0.616" stroke="#000" stroke-width="0.2" text-anchor="middle" fill="#000" xml:space="preserve">связи с неуплатой</text>
<text x="0" y="0" transform="translate(375.74,779.24) scale(1.0,0.9651162790697674)" style="font-family:&quot;Liberation Sans&quot;,sans-serif;font-size:6.67px;white-space:pre"  font-weight="bold" letter-spacing="0.616" stroke="#000" stroke-width="0.2" text-anchor="middle" fill="#000" xml:space="preserve">пошлины</text>
<rect x="443.52" y="728.08" width="84.19" height="55.62" fill="#fff" stroke="#141414" stroke-width="1.0"/>
<text x="0" y="0" transform="translate(485.66,736.69) scale(1.0,0.9651162790697674)" style="font-family:&quot;Liberation Sans&quot;,sans-serif;font-size:6.78px;white-space:pre"  font-weight="bold" letter-spacing="0.634" stroke="#000" stroke-width="0.2" text-anchor="middle" fill="#000" xml:space="preserve">Направление</text>
<text x="0" y="0" transform="translate(485.66,745.13) scale(1.0,0.9651162790697674)" style="font-family:&quot;Liberation Sans&quot;,sans-serif;font-size:6.78px;white-space:pre"  font-weight="bold" letter-spacing="0.634" stroke="#000" stroke-width="0.2" text-anchor="middle" fill="#000" xml:space="preserve">заявителю</text>
<text x="0" y="0" transform="translate(485.66,753.57) scale(1.0,0.9651162790697674)" style="font-family:&quot;Liberation Sans&quot;,sans-serif;font-size:6.78px;white-space:pre"  font-weight="bold" letter-spacing="0.634" stroke="#000" stroke-width="0.2" text-anchor="middle" fill="#000" xml:space="preserve">уведомления об</text>
<text x="0" y="0" transform="translate(485.66,762.01) scale(1.0,0.9651162790697674)" style="font-family:&quot;Liberation Sans&quot;,sans-serif;font-size:6.78px;white-space:pre"  font-weight="bold" letter-spacing="0.634" stroke="#000" stroke-width="0.2" text-anchor="middle" fill="#000" xml:space="preserve">отказе в</text>
<text x="0" y="0" transform="translate(485.66,770.45) scale(1.0,0.9651162790697674)" style="font-family:&quot;Liberation Sans&quot;,sans-serif;font-size:6.78px;white-space:pre"  font-weight="bold" letter-spacing="0.634" stroke="#000" stroke-width="0.2" text-anchor="middle" fill="#000" xml:space="preserve">удовлетворении</text>
<text x="0" y="0" transform="translate(485.66,778.89) scale(1.0,0.9651162790697674)" style="font-family:&quot;Liberation Sans&quot;,sans-serif;font-size:6.78px;white-space:pre"  font-weight="bold" letter-spacing="0.634" stroke="#000" stroke-width="0.2" text-anchor="middle" fill="#000" xml:space="preserve">Ходатайства о копии</text>
<rect x="544.42" y="727.56" width="61.3" height="55.94" fill="#fff" stroke="#141414" stroke-width="1.0"/>
<text x="0" y="0" transform="translate(575.22,740.53) scale(1.0,0.9651162790697674)" style="font-family:&quot;Liberation Sans&quot;,sans-serif;font-size:6.86px;white-space:pre"  font-weight="bold" letter-spacing="0.726" stroke="#000" stroke-width="0.2" text-anchor="middle" fill="#000" xml:space="preserve">Направление</text>
<text x="0" y="0" transform="translate(575.22,748.93) scale(1.0,0.9651162790697674)" style="font-family:&quot;Liberation Sans&quot;,sans-serif;font-size:6.86px;white-space:pre"  font-weight="bold" letter-spacing="0.726" stroke="#000" stroke-width="0.2" text-anchor="middle" fill="#000" xml:space="preserve">заявителю</text>
<text x="0" y="0" transform="translate(575.22,757.33) scale(1.0,0.9651162790697674)" style="font-family:&quot;Liberation Sans&quot;,sans-serif;font-size:6.86px;white-space:pre"  font-weight="bold" letter-spacing="0.726" stroke="#000" stroke-width="0.2" text-anchor="middle" fill="#000" xml:space="preserve">заверенных</text>
<text x="0" y="0" transform="translate(575.22,765.73) scale(1.0,0.9651162790697674)" style="font-family:&quot;Liberation Sans&quot;,sans-serif;font-size:6.86px;white-space:pre"  font-weight="bold" letter-spacing="0.726" stroke="#000" stroke-width="0.2" text-anchor="middle" fill="#000" xml:space="preserve">копий</text>
<text x="0" y="0" transform="translate(575.22,774.13) scale(1.0,0.9651162790697674)" style="font-family:&quot;Liberation Sans&quot;,sans-serif;font-size:6.86px;white-space:pre"  font-weight="bold" letter-spacing="0.726" stroke="#000" stroke-width="0.2" text-anchor="middle" fill="#000" xml:space="preserve">документов</text>
</g>
<polygon points="0,0 417,0 417,1.0 380,1.1 200,1.4 100,2.1 0,2.8" fill="#000"/>
<polygon points="417,0 462,0 462,0.9 417,1.0" fill="#999"/>
<polygon points="636.8,0 640,0 640,905 638.9,905 638.9,880 638.1,455 637.1,215" fill="#000"/>
<rect x="0" y="90" width="1.0" height="75" fill="#aaa"/>
<rect x="0" y="165" width="1.1" height="140" fill="#555"/>
<polygon points="0,305 1.3,305 1.9,905 0,905" fill="#000"/>
<rect x="7.6" y="10" width="1" height="70" fill="#777"/>
<polygon points="270,903.9 640,903.0 640,905 270,905" fill="#222"/>
<path d="M44.0,51.8 C44.2,48.6 46.2,47.9 47.2,48.1 C48.4,48.4 49.1,50.2 49.1,51.6 L47.9,51.9 C47.6,51.2 47.1,50.9 46.6,51.0 C46.1,51.0 45.7,51.4 45.4,52.0 Z" fill="#000"/>
<path d="M46.8,56.1 L44.2,59.6 L46.6,61.4 Z" fill="#000"/>
<ellipse cx="45.4" cy="71.0" rx="1.5" ry="1.8" fill="#000"/><rect x="45.3" y="67.5" width="0.7" height="2" fill="#333"/>
<path d="M45.2,83.2 L49.4,83.4 L46.6,87.7 Z" fill="#000"/>
</svg>
</body></html>
